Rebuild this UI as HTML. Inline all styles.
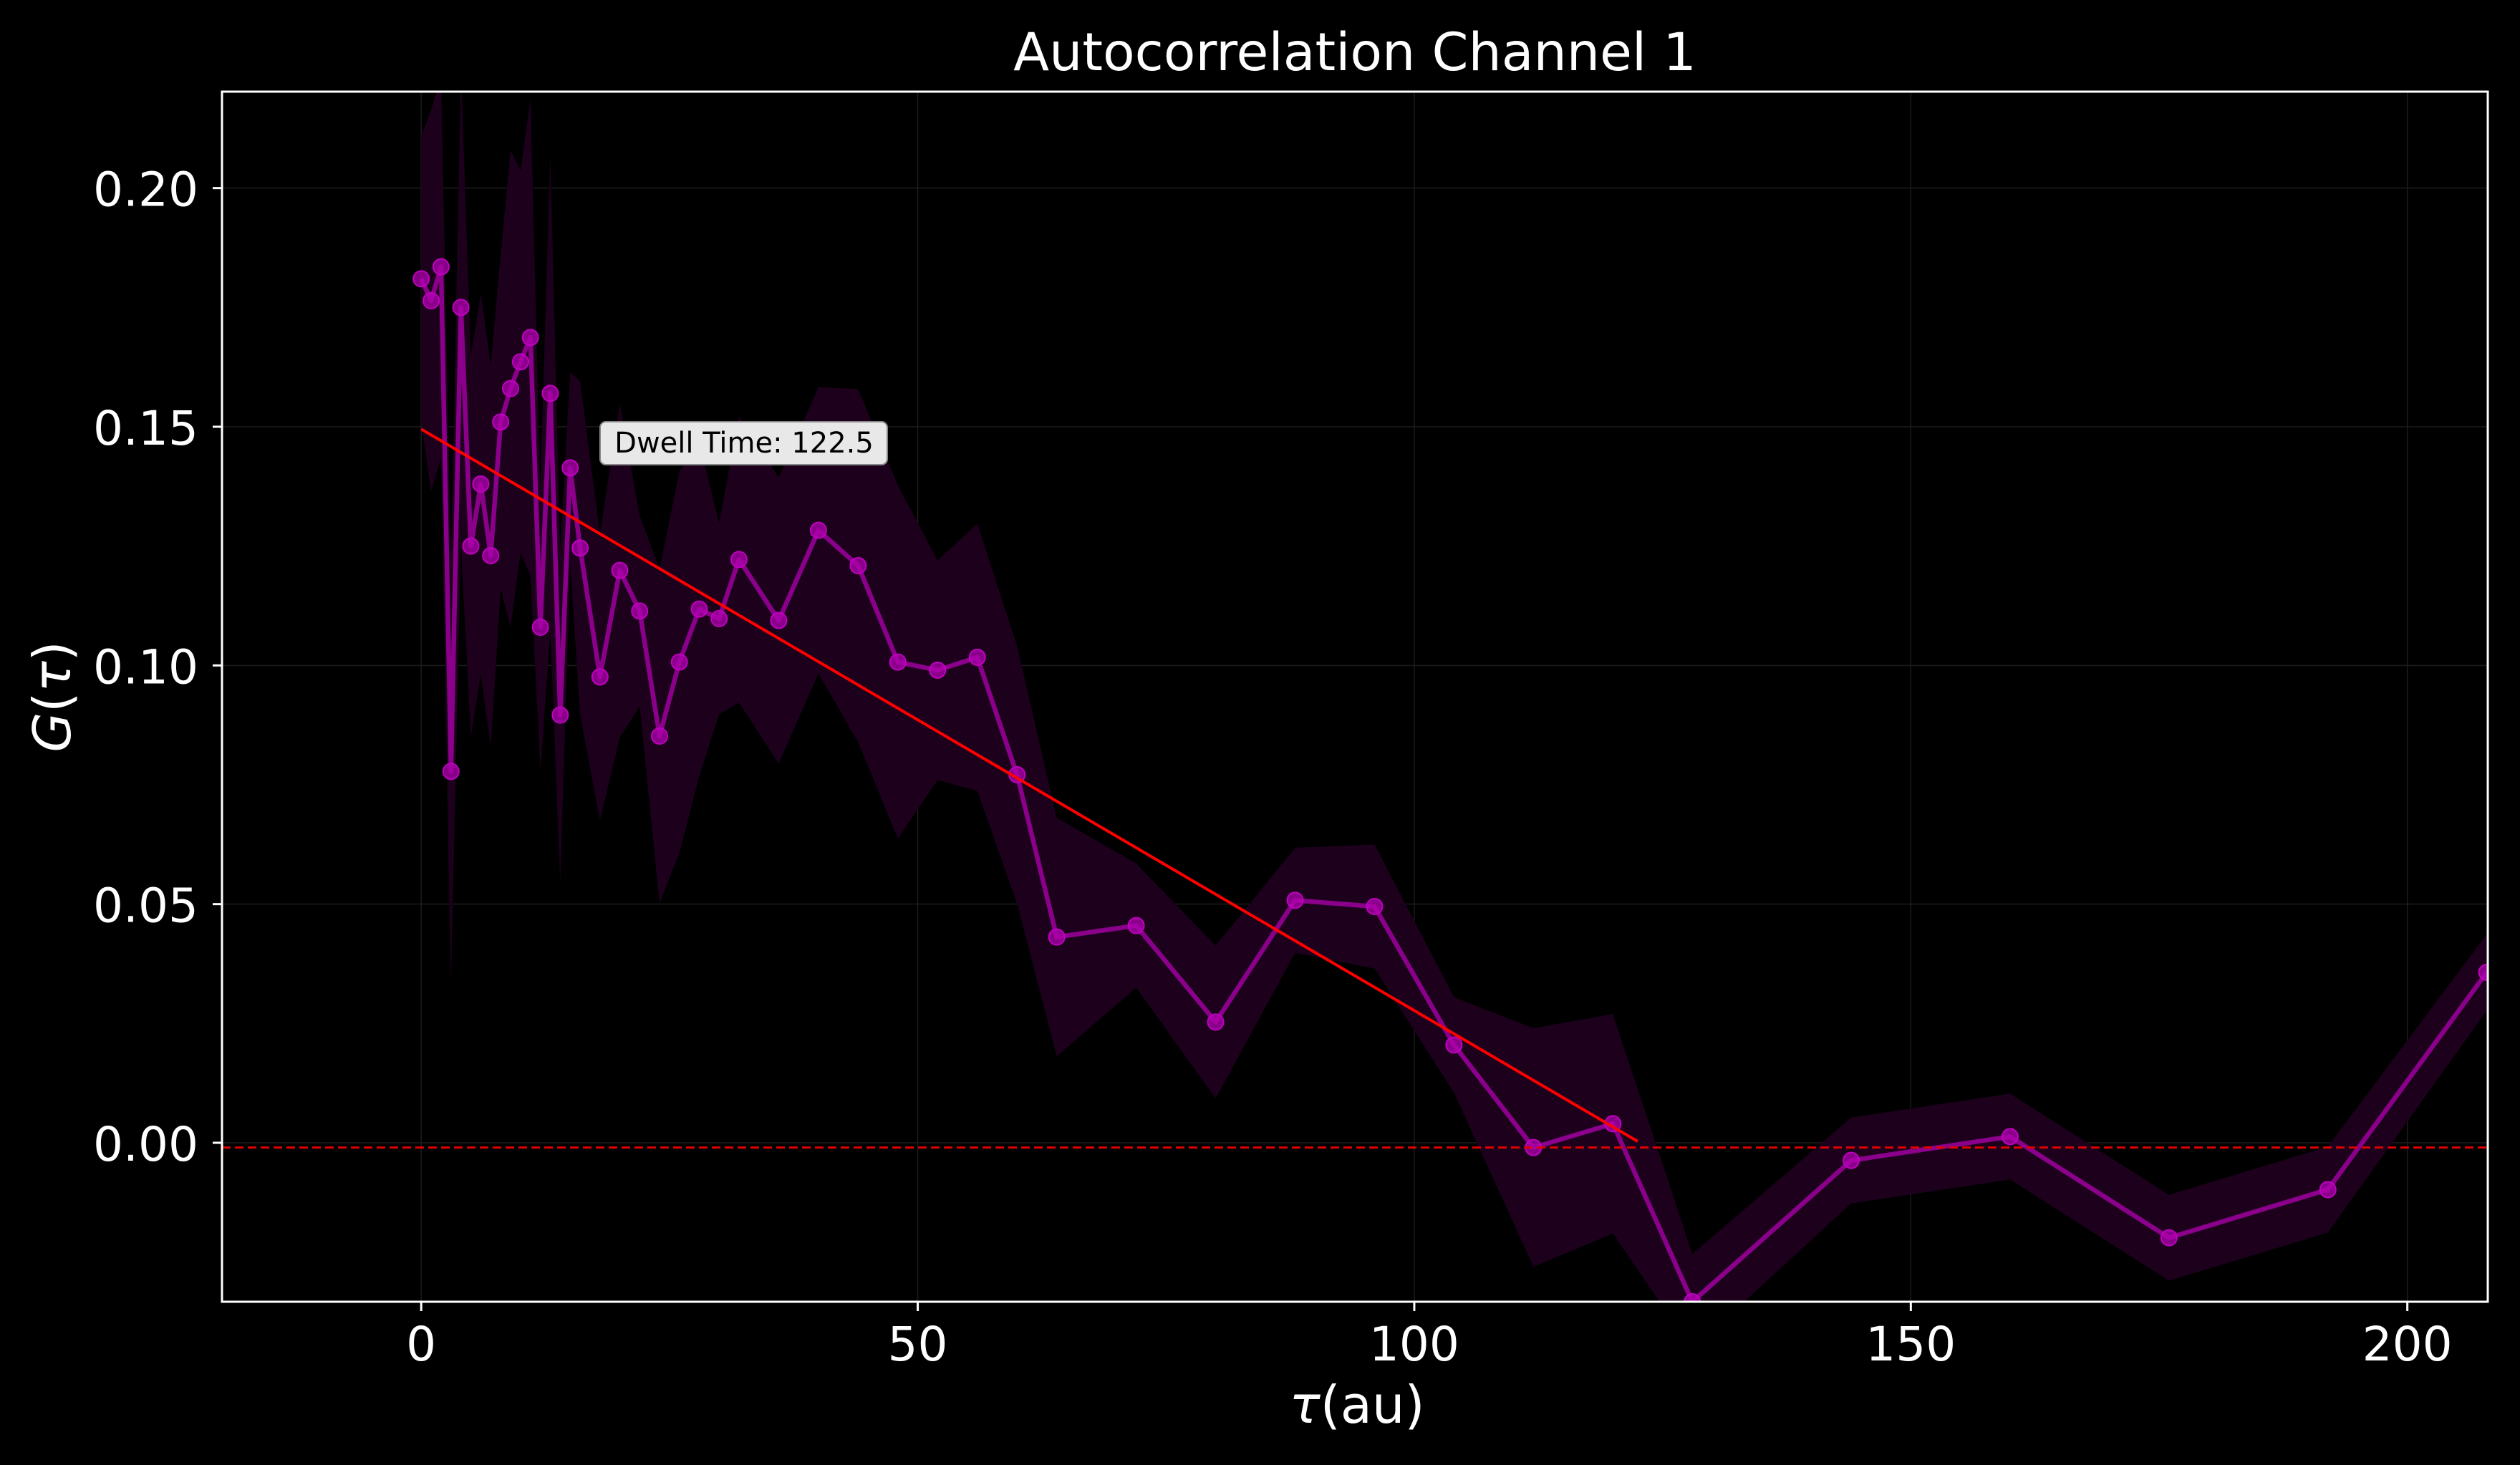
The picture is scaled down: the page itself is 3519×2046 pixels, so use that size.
<!DOCTYPE html>
<html><head><meta charset="utf-8"><style>
html,body{margin:0;padding:0;background:#000;}
svg{display:block;}
text{font-family:"DejaVu Sans","Liberation Sans",sans-serif;fill:#fff;}
</style></head><body>
<svg id="chart" width="3519" height="2046" viewBox="0 0 3519 2046" xmlns="http://www.w3.org/2000/svg">
<rect x="0" y="0" width="3519" height="2046" fill="#000"/>
<defs><clipPath id="plotclip"><rect x="310" y="128" width="3164" height="1690"/></clipPath></defs>
<g id="grid"></g>
<g id="band" clip-path="url(#plotclip)"></g>
<g id="series" clip-path="url(#plotclip)"></g>
<g id="fit" clip-path="url(#plotclip)"></g>
<rect x="310" y="128" width="3164" height="1690" fill="none" stroke="#fff" stroke-width="3"/>
<g id="axes"></g>
<text x="1892" y="98" font-size="73" text-anchor="middle">Autocorrelation Channel 1</text>
<text x="1895" y="1987" font-size="72" text-anchor="middle"><tspan font-style="italic">τ</tspan>(au)</text>
<text transform="translate(98,973) rotate(-90)" font-size="72" text-anchor="middle"><tspan font-style="italic">G</tspan>(<tspan font-style="italic">τ</tspan>)</text>
<g>
<rect x="838" y="589" width="401" height="60" rx="8" fill="#e8e8e8" stroke="#888" stroke-width="2"/>
<text x="1039" y="632" font-size="40" text-anchor="middle" style="fill:#000">Dwell Time: 122.5</text>
</g>
</svg>
<script>
const taus = [0,1,2,3,4,5,6,7,8,9,10,11,12,13,14,15,16,18,20,22,24,26,28,30,32,36,40,44,48,52,56,60,64,72,80,88,96,104,112,120,128,144,160,176,192,208];
const gvals = [0.181,0.1764,0.1835,0.0778,0.175,0.125,0.138,0.123,0.151,0.158,0.1636,0.1687,0.108,0.157,0.0896,0.1414,0.1246,0.0976,0.1199,0.1114,0.0852,0.1007,0.1118,0.1098,0.1222,0.1094,0.1283,0.1209,0.1007,0.099,0.1017,0.0771,0.0431,0.0455,0.0253,0.0508,0.0495,0.0205,-0.001,0.004,-0.0333,-0.0037,0.0013,-0.0199,-0.0098,0.0357];
const errs = [0.03,0.04,0.04,0.045,0.05,0.04,0.04,0.04,0.035,0.05,0.04,0.05,0.03,0.05,0.035,0.02,0.035,0.03,0.035,0.02,0.035,0.04,0.035,0.02,0.03,0.03,0.03,0.037,0.037,0.023,0.028,0.027,0.025,0.013,0.016,0.011,0.013,0.01,0.025,0.023,0.01,0.009,0.009,0.009,0.009,0.008];
const xTicks = [0,50,100,150,200];
const yTicks = [0.00,0.05,0.10,0.15,0.20];
const fitStart = [0,0.1495];
const fitEnd = [122.5,0.0003];
const baseline = -0.001;

const NS='http://www.w3.org/2000/svg';
const L=310,R=3474,T=128,B=1818,XMIN=-20.06,XMAX=208.1,YMIN=-0.0333,YMAX=0.2202;
function X(v){return L+(v-XMIN)/(XMAX-XMIN)*(R-L);}
function Y(v){return B-(v-YMIN)/(YMAX-YMIN)*(B-T);}
function mk(tag,attrs,parent){const e=document.createElementNS(NS,tag);for(const k in attrs)e.setAttribute(k,attrs[k]);parent.appendChild(e);return e;}
const grid=document.getElementById('grid'),axes=document.getElementById('axes');
xTicks.forEach(t=>{
  const gl=mk('line',{x1:X(t),x2:X(t),y1:T,y2:B,stroke:'#1c1c1c','stroke-width':1.5},grid);
  
  
  const tk=mk('line',{x1:X(t),x2:X(t),y1:B,y2:B+13,stroke:'#fff','stroke-width':3},axes);
  
  
  const tx=mk('text',{x:X(t),y:1900,'font-size':66,'text-anchor':'middle'},axes);
  tx.textContent=t;
  
  
});
yTicks.forEach(t=>{
  const gl=mk('line',{x1:L,x2:R,y1:Y(t),y2:Y(t),stroke:'#1c1c1c','stroke-width':1.5},grid);
  
  
  const tk=mk('line',{x1:L-13,x2:L,y1:Y(t),y2:Y(t),stroke:'#fff','stroke-width':3},axes);
  
  
  const tx=mk('text',{x:277,y:Y(t)+25,'font-size':66,'text-anchor':'end'},axes);
  tx.textContent=t.toFixed(2);
  
  
});
let up=taus.map((t,i)=>X(t)+','+Y(gvals[i]+errs[i]));
let dn=taus.map((t,i)=>X(t)+','+Y(gvals[i]-errs[i])).reverse();
const band=mk('polygon',{points:up.concat(dn).join(' '),fill:'#1c001c'},document.getElementById('band'));


const bl=mk('line',{x1:L,x2:R,y1:Y(baseline),y2:Y(baseline),stroke:'#e00000','stroke-width':3,'stroke-dasharray':'12,6'},document.getElementById('fit'));


const ser=document.getElementById('series');
const pl=mk('polyline',{points:taus.map((t,i)=>X(t)+','+Y(gvals[i])).join(' '),fill:'none',stroke:'#8b008b','stroke-width':6.5,'stroke-linejoin':'round'},ser);


taus.forEach((t,i)=>{
  const c=mk('circle',{cx:X(t),cy:Y(gvals[i]),r:11,fill:'#b000b0','fill-opacity':0.75,stroke:'#c000c0','stroke-width':2},ser);
  
  
});
const fl=mk('line',{x1:X(fitStart[0]),y1:Y(fitStart[1]),x2:X(fitEnd[0]),y2:Y(fitEnd[1]),stroke:'#ff0000','stroke-width':4},document.getElementById('fit'));


</script>
</body></html>
